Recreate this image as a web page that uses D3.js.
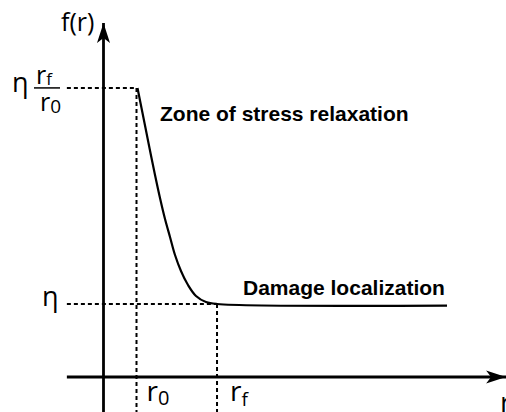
<!DOCTYPE html>
<html>
<head>
<meta charset="utf-8">
<script src="https://cdn.jsdelivr.net/npm/d3@7"></script>
<style>
  html, body { margin: 0; padding: 0; background: #fff; }
  svg { display: block; }
</style>
</head>
<body>
<svg id="chart" width="506" height="412"></svg>
<script>
// ---- data (schematic units: r in units of r0, f in units of eta) ----
const r0 = 1;
const rf = 3.44;
const eta = 1;
const etaRatio = 3.96;          // eta * rf / r0 level as drawn
const xExtent = [-1.11, 12.2];  // x axis from .. to (arrow tip)
const yExtent = [-0.48, 4.85];  // y axis from .. to (arrow tip)
const curveR = [1.03, 1.258, 1.409, 1.561, 1.712, 1.864, 2.015, 2.167, 2.348, 2.561, 2.803, 3.106, 3.44, 10.41];
const curveF = [3.959, 3.445, 3.103, 2.767, 2.452, 2.164, 1.918, 1.671, 1.452, 1.260, 1.110, 1.027, 1.0, 0.977];
const labelZone = "Zone of stress relaxation";
const labelDamage = "Damage localization";

// ---- scales ----
const x = d3.scaleLinear().domain([0, 1]).range([103.5, 136.5]);
const y = d3.scaleLinear().domain([0, 1]).range([377, 304]);

const svg = d3.select("#chart");
const regFont = "'Open Sans', 'Noto Sans', sans-serif";
const boldFont = "'Liberation Sans', Arial, sans-serif";

// arrow markers
const defs = svg.append("defs");
defs.append("marker")
  .attr("id", "arrow")
  .attr("viewBox", "-22 -7 24 14")
  .attr("refX", 0).attr("refY", 0)
  .attr("markerWidth", 24).attr("markerHeight", 14)
  .attr("markerUnits", "userSpaceOnUse")
  .attr("orient", "auto")
  .append("path")
  .attr("d", "M0,0 L-20,-6.5 L-15,0 L-20,6.5 Z")
  .attr("fill", "#000");

// dashed guide lines
const dash = "4,3";
const guides = [
  [[xExtent[0], etaRatio], [r0, etaRatio]],
  [[xExtent[0], eta], [rf, eta]],
  [[r0, etaRatio], [r0, yExtent[0]]],
  [[rf, eta], [rf, yExtent[0]]]
];
svg.append("g").selectAll("line").data(guides).join("line")
  .attr("x1", d => x(d[0][0])).attr("y1", d => y(d[0][1]))
  .attr("x2", d => x(d[1][0])).attr("y2", d => y(d[1][1]))
  .attr("stroke", "#000").attr("stroke-width", 2)
  .attr("stroke-dasharray", dash);

// axes
svg.append("line")
  .attr("x1", x(xExtent[0])).attr("y1", y(0))
  .attr("x2", x(xExtent[1])).attr("y2", y(0))
  .attr("stroke", "#000").attr("stroke-width", 2.8)
  .attr("marker-end", "url(#arrow)");
svg.append("line")
  .attr("x1", x(0)).attr("y1", y(yExtent[0]))
  .attr("x2", x(0)).attr("y2", y(yExtent[1]))
  .attr("stroke", "#000").attr("stroke-width", 2.8)
  .attr("marker-end", "url(#arrow)");

// curve
const pts = curveR.map((r, i) => [r, curveF[i]]);
svg.append("path")
  .datum(pts)
  .attr("d", d3.line().x(d => x(d[0])).y(d => y(d[1])).curve(d3.curveCatmullRom.alpha(0.5)))
  .attr("fill", "none").attr("stroke", "#000").attr("stroke-width", 2.2);

// labels
function txt(xp, yp, size, font, weight) {
  return svg.append("text").attr("x", xp).attr("y", yp)
    .attr("font-family", font).attr("font-size", size)
    .attr("font-weight", weight || "normal").attr("fill", "#000");
}
txt(61, 31, 25, regFont).text("f(r)");
txt(500, 412, 28, regFont).text("r");

// eta * rf/r0
txt(12, 92, 27, regFont).text("η");
svg.append("line").attr("x1", 34).attr("x2", 60)
  .attr("y1", y(etaRatio)).attr("y2", y(etaRatio))
  .attr("stroke", "#000").attr("stroke-width", 1.5);
const num = txt(36, 84, 25, regFont);
num.append("tspan").text("r");
num.append("tspan").attr("font-size", 17).attr("dy", 1).text("f");
const den = txt(40, 111, 25, regFont);
den.append("tspan").text("r");
den.append("tspan").attr("font-size", 19).attr("dy", 2).text("0");

// eta
txt(42, 306, 27, regFont).text("η");

// r0, rf tick labels
const l0 = txt(x(r0) + 10, 401, 28, regFont);
l0.append("tspan").text("r");
l0.append("tspan").attr("font-size", 20).attr("dy", 4).text("0");
const lf = txt(x(rf) + 13, 401, 28, regFont);
lf.append("tspan").text("r");
lf.append("tspan").attr("font-size", 19).attr("dy", 5).text("f");

// bold annotations
txt(160, 121, 21, boldFont, "bold").text(labelZone);
txt(243, 295, 21, boldFont, "bold").text(labelDamage);
</script>
</body>
</html>
